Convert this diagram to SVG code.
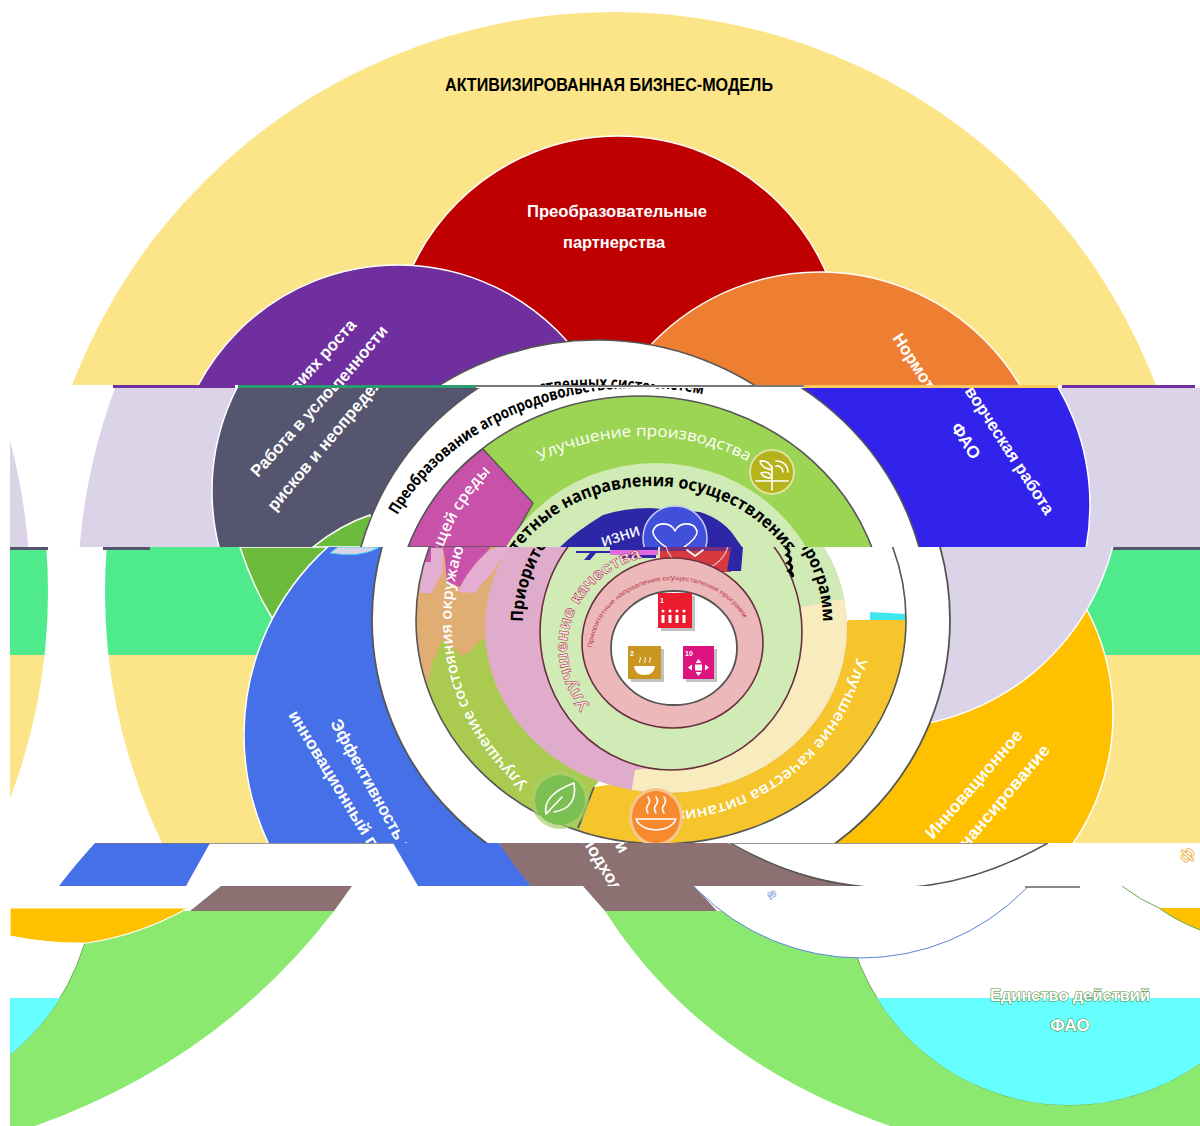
<svg xmlns="http://www.w3.org/2000/svg" xmlns:xlink="http://www.w3.org/1999/xlink" width="1200" height="1126" viewBox="0 0 1200 1126">
<style>
text{font-family:"Liberation Sans","Noto Sans",sans-serif}
.w{fill:#fff;font-weight:700;font-size:17px}
.r{fill:#fff;font-family:"Open Sans","Noto Sans",sans-serif;font-size:15.5px}
.k{fill:#000;font-family:"Open Sans","Noto Sans",sans-serif;font-weight:700}
.ln{fill:none;stroke:#555;stroke-width:1.6}
.dr{stroke:#6a2f3c;stroke-width:1.6}
.ic{fill:none;stroke:#fff;stroke-width:1.6;stroke-linecap:round;stroke-linejoin:round}
</style>
<defs>
<clipPath id="bA"><rect x="0" y="0" width="1200" height="385"/></clipPath>
<clipPath id="bB"><rect x="10" y="388" width="1190" height="159"/></clipPath>
<clipPath id="bC"><rect x="10" y="547" width="1190" height="108"/></clipPath>
<clipPath id="bD"><rect x="10" y="655" width="1190" height="188"/></clipPath>
<clipPath id="bCD"><rect x="10" y="547" width="1190" height="296"/></clipPath>
<clipPath id="bE"><rect x="10" y="843" width="1190" height="43"/></clipPath>
<clipPath id="bFG"><rect x="10" y="886" width="1190" height="240"/></clipPath>
<clipPath id="bG1"><rect x="10" y="925" width="120" height="201"/></clipPath>
<clipPath id="bG2"><rect x="10" y="998" width="1190" height="128"/></clipPath>
<clipPath id="rH"><rect x="600" y="500" width="600" height="400"/></clipPath>
<clipPath id="outer"><ellipse cx="661" cy="620" rx="245" ry="224"/></clipPath>
<clipPath id="midr"><ellipse cx="666" cy="628" rx="181" ry="165"/></clipPath>
<path id="tA" d="M325 620A272 232 0 0 1 869 620"/>
<path id="tB" d="M368 620A272 232 0 0 1 912 620"/>
<path id="prod" d="M439 620A205 184 0 0 1 849 620"/>
<path id="prB" d="M492 628A160 142 0 0 1 812 628"/>
<path id="prC" d="M523 622A150 143 0 0 1 823 622"/>
<path id="life" d="M590 705A104 93 0 0 1 650 556"/>
<path id="small" d="M592 648A81 73 0 0 1 745 620"/>
<path id="food" d="M858 650A200 192 0 0 1 560 786"/>
<path id="envC" d="M528 783A207 210 0 0 1 661 410"/>
<path id="envB" d="M507 783A207 210 0 0 1 640 410"/>
<g id="cd">
<circle cx="685" cy="592" r="580"/>
<circle cx="-532" cy="592" r="580"/>
</g>
<text id="l1" class="w" textLength="150" lengthAdjust="spacingAndGlyphs" transform="translate(330 723) rotate(61)">Эффективность и</text>
<text id="l2" class="w" textLength="210" lengthAdjust="spacingAndGlyphs" transform="translate(288 715) rotate(58.6)">инновационный подход</text>
<g id="pur">
<text class="w" textLength="205" lengthAdjust="spacingAndGlyphs" transform="translate(258 478) rotate(-48)">Работа в условиях роста</text>
<text class="w" textLength="236" lengthAdjust="spacingAndGlyphs" transform="translate(275 512) rotate(-50)">рисков и неопределенности</text>
</g>
<g id="ora">
<text class="w" textLength="212" lengthAdjust="spacingAndGlyphs" transform="translate(930 338) rotate(57)">Нормотворческая работа</text>
</g>
</defs>

<g id="band-top" clip-path="url(#bA)">
<circle cx="614" cy="592" r="580" fill="#FBE588"/>
<text x="609" y="91" text-anchor="middle" font-weight="700" font-size="18" fill="#000" textLength="328" lengthAdjust="spacingAndGlyphs">АКТИВИЗИРОВАННАЯ БИЗНЕС-МОДЕЛЬ</text>
<circle cx="618" cy="363" r="227" fill="#BE0000" stroke="#fff" stroke-width="1.5"/>
<text class="w" x="617" y="217" text-anchor="middle" textLength="180" lengthAdjust="spacingAndGlyphs">Преобразовательные</text>
<text class="w" x="614" y="248" text-anchor="middle" textLength="102" lengthAdjust="spacingAndGlyphs">партнерства</text>
<circle cx="398" cy="491" r="226" fill="#702F9F" stroke="#fff" stroke-width="1.5"/>
<circle cx="820" cy="505" r="233" fill="#EE7E32" stroke="#fff" stroke-width="1.5"/>
<use href="#pur" transform="translate(-38 0)"/>
<use href="#ora" transform="translate(-38 0)"/>
<ellipse cx="597" cy="620" rx="289" ry="280" fill="#fff" stroke="#555" stroke-width="1.6"/>
<text class="k" font-size="16"><textPath href="#tA" startOffset="110" textLength="350" lengthAdjust="spacingAndGlyphs">Преобразование агропродовольственных систем</textPath></text>
</g>

<g id="strip">
<rect x="113" y="385" width="122" height="3" fill="#702F9F"/>
<rect x="238" y="385" width="238" height="3" fill="#2A9D6F"/>
<rect x="476" y="385" width="328" height="2" fill="#777"/>
<rect x="804" y="385" width="254" height="3" fill="#FFC95F"/>
<rect x="1062" y="385" width="133" height="3" fill="#702F9F"/>
</g>

<g id="band-upper" clip-path="url(#bB)">
<circle cx="658" cy="592" r="580" fill="#DBD3E8"/>
<circle cx="-550" cy="592" r="580" fill="#DBD3E8"/>
<circle cx="438" cy="491" r="226" fill="#555570" stroke="#fff" stroke-width="1.5"/>
<circle cx="857" cy="505" r="233" fill="#3123EC" stroke="#fff" stroke-width="1.5"/>
<path d="M313 547Q340 525 370 515L380 547Z" fill="#6DBB3C" stroke="#fff" stroke-width="1.5"/>
<use href="#pur"/>
<use href="#ora"/>
<text class="w" text-anchor="middle" transform="translate(961 444) rotate(57)">ФАО</text>
<ellipse cx="640" cy="620" rx="289" ry="280" fill="#fff" stroke="#555" stroke-width="1.6"/>
<text class="k" font-size="16"><textPath href="#tB" startOffset="110" textLength="350" lengthAdjust="spacingAndGlyphs">Преобразование агропродовольственных систем</textPath></text>
<ellipse cx="640" cy="620" rx="245" ry="224" fill="#9CD453" stroke="#555" stroke-width="1.6"/>
<path d="M408 547A245 224 0 0 1 483 449L533 503L508 547Z" fill="#C851A9" stroke="#555" stroke-width="1.4"/>
<text class="r" font-weight="600"><textPath href="#envB" startOffset="0" textLength="350" lengthAdjust="spacingAndGlyphs">Улучшение состояния окружающей среды</textPath></text>
<text class="r" font-size="16"><textPath href="#prod" startOffset="50%" text-anchor="middle" textLength="216" lengthAdjust="spacingAndGlyphs">Улучшение производства</textPath></text>
<g id="icon-production">
<circle cx="772" cy="472" r="22" fill="#B5B21A" stroke="#DDE39A" stroke-width="2"/>
<path class="ic" d="M772 490V466M772 470q-11 -2 -12 -9q10 -1 12 9M772 478q-9 0 -11 -5q9 -3 11 5M776 466a6 6 0 0 1 7 6M776 461a11 11 0 0 1 12 11M756 481H788"/>
</g>
<ellipse cx="656" cy="628" rx="172" ry="165" fill="#D1EBB7"/>
<path d="M560 547Q575 532 603 515Q625 508 650 508L700 512Q725 520 737 540L742 547Z" fill="#2D27A8"/>
<text x="603" y="547" fill="#fff" font-size="18" font-family="Open Sans" textLength="40" lengthAdjust="spacingAndGlyphs" transform="rotate(-18 603 547)">изни</text>
<circle cx="675" cy="538" r="32" fill="#4050DA" stroke="#C5CFEE" stroke-width="1.5"/>
<path class="ic" stroke-width="2" d="M675 553C660 544 652 537 653 531C656 521 671 522 675 531C679 522 694 521 697 531C698 537 690 544 675 553Z"/>
<text class="k" font-size="17"><textPath href="#prB" startOffset="15" textLength="470" lengthAdjust="spacingAndGlyphs">Приоритетные направления осуществления программ</textPath></text>
</g>

<g id="band-middle" clip-path="url(#bCD)">
<use href="#cd" clip-path="url(#bC)" fill="#4FEA8C"/>
<use href="#cd" clip-path="url(#bD)" fill="#FBE588"/>
<g clip-path="url(#rH)">
<circle cx="669" cy="592" r="580" fill="#4FEA8C" clip-path="url(#bC)"/>
<circle cx="669" cy="592" r="580" fill="#FBE588" clip-path="url(#bD)"/>
</g>
<rect x="10" y="547" width="38" height="3" fill="#555570"/>
<rect x="103" y="547" width="47" height="3" fill="#555570"/>
<rect x="1105" y="547" width="95" height="3" fill="#555570"/>
<path d="M240 547Q252 585 272 618L345 547Z" fill="#6DBB3C" stroke="#fff" stroke-width="1.5"/>
<circle cx="497" cy="735" r="253" fill="#4670E8" stroke="#fff" stroke-width="1.5"/>
<path d="M330 553Q360 558 378 548V547H338Z" fill="#DBD3E8" stroke="#3BD5E8" stroke-width="1"/>
<use href="#l1"/>
<use href="#l2"/>
<circle cx="887" cy="715" r="226" fill="#FFC000" stroke="#fff" stroke-width="1.5"/>
<circle cx="880" cy="488" r="240" fill="#DBD3E8" stroke="#fff" stroke-width="1.5"/>
<text class="w" textLength="138" lengthAdjust="spacingAndGlyphs" transform="translate(933 840) rotate(-49)">Инновационное</text>
<text class="w" textLength="157" lengthAdjust="spacingAndGlyphs" transform="translate(949 870) rotate(-49.5)">финансирование</text>
<ellipse cx="661" cy="620" rx="289" ry="280" fill="#fff" stroke="#555" stroke-width="1.8"/>
<path d="M870 612L906 614V620H870Z" fill="#3FE6EE"/>
<g clip-path="url(#outer)">
<path d="M849 620H920V860H570L594 787L640 780L849 620Z" fill="#F5C52B"/>
<path d="M400 540H560V700H400Z" fill="#E0AE73"/>
<path d="M420 695L429 680L432 662L437 655L442 640L463 656L472 650L477 643L483 639H560L600 780L594 787L570 860H400V695Z" fill="#ABCA50"/>
<path d="M405 540H500L492 545L487 552L477 562L467 575L460 587L447 582L445 560L443 548H431V562H425V548H405Z" fill="#C851A9"/>
<path d="M405 600L420 593L422 570L425 562H431V548H443V572L437 582L432 593H405Z" fill="#E4AED2"/>
<path d="M458 592L460 587L467 575L477 562L487 552L502 545L520 547L500 560L492 573L482 583L475 593Z" fill="#E4AED2"/>
</g>
<ellipse cx="661" cy="620" rx="245" ry="224" class="ln"/>
<path d="M594 787L578 828" class="ln"/>
<text class="r" font-weight="600"><textPath href="#envC" startOffset="0" textLength="350" lengthAdjust="spacingAndGlyphs">Улучшение состояния окружающей среды</textPath></text>
<text class="r" font-weight="600" font-size="16"><textPath href="#food" startOffset="8" textLength="255" lengthAdjust="spacingAndGlyphs">Улучшение качества питания</textPath></text>
<g clip-path="url(#midr)">
<rect x="470" y="540" width="400" height="270" fill="#E0ACCB"/>
<path d="M630 800L635 770L720 760L801 607L835 600L860 600V800Z" fill="#F8ECBF"/>
<path d="M572 540H860V600H835L801 607L700 640L572 600Z" fill="#D1EBB7"/>
</g>
<ellipse cx="671" cy="632" rx="131" ry="138" fill="#D1EBB7" class="dr"/>
<path d="M660 547H735L731 572H660Z" fill="#D63A3F"/>
<path d="M731 547H743L741 571H727Z" fill="#2D27A8"/>
<path d="M660 547H730V551H660Z" fill="#2D27A8" opacity=".55"/>
<ellipse cx="697" cy="538" rx="32" ry="32" fill="none" stroke="#E9BFC6" stroke-width="1.2"/>
<rect x="610" y="550" width="48" height="5" fill="#E26BE0"/>
<path d="M576 551H610V553H596L590 560H584L590 553H576ZM610 547H658V550H610ZM622 555H656V558H622Z" fill="#2D27A8"/>
<path class="ic" d="M687 550L695 556L703 550"/>
<path d="M785 547q7 4 2 8q7 4 1 8q7 4 1 8q5 3 3 6" fill="none" stroke="#000" stroke-width="3"/>
<text class="k" font-size="17"><textPath href="#prC" startOffset="0" textLength="460" lengthAdjust="spacingAndGlyphs">Приоритетные направления осуществления программ</textPath></text>
<text fill="#FBE7E7" stroke="#A5263A" stroke-width=".5" font-size="17" font-weight="700" font-family="Open Sans"><textPath href="#life" textLength="250" lengthAdjust="spacingAndGlyphs">Улучшение качества жизни</textPath></text>
<ellipse cx="672.500" cy="643" rx="90.500" ry="85" fill="#ECB8BA" class="dr"/>
<text fill="#B83A48" font-size="6.500"><textPath href="#small" textLength="200" lengthAdjust="spacingAndGlyphs">Приоритетные направления осуществления программ</textPath></text>
<ellipse cx="674" cy="648" rx="63" ry="57" fill="#fff" stroke="#555" stroke-width="1.8"/>
<g id="sdg1">
<rect x="661" y="596" width="34" height="35" fill="#777" opacity=".45"/>
<rect x="658" y="593" width="34" height="35" fill="#ED1B2E"/>
<text x="660" y="603" fill="#fff" font-size="7" font-weight="700">1</text>
<path d="M663 623v-8M670 623v-8M677 623v-8M684 623v-8" stroke="#fff" stroke-width="3"/>
<path d="M663 611h.01M670 611h.01M677 611h.01M684 611h.01" stroke="#fff" stroke-width="3" stroke-linecap="round"/>
</g>
<g id="sdg2">
<rect x="631" y="649" width="33" height="33" fill="#777" opacity=".45"/>
<rect x="628" y="646" width="33" height="33" fill="#C9971F"/>
<text x="630" y="656" fill="#fff" font-size="7" font-weight="700">2</text>
<path d="M634 666H655Q654 675 644.500 675Q635 675 634 666Z" fill="#fff"/>
<path d="M640 663q-1 -2 0 -3t0 -3M645 663q-1 -2 0 -3t0 -3M650 663q-1 -2 0 -3t0 -3" fill="none" stroke="#fff"/>
</g>
<g id="sdg10">
<rect x="686" y="649" width="31" height="33" fill="#777" opacity=".45"/>
<rect x="683" y="646" width="31" height="33" fill="#DD1480"/>
<text x="685" y="656" fill="#fff" font-size="7" font-weight="700">10</text>
<path d="M698.500 659l3 4h-6ZM698.500 676l3 -4h-6ZM688 667.500l4 -3v6ZM709 667.500l-4 -3v6Z" fill="#fff"/>
<rect x="695" y="664.500" width="7" height="6" fill="#fff"/>
</g>
<g id="icon-environment">
<circle cx="560" cy="800" r="29" fill="#A6CF6A" opacity=".7"/>
<circle cx="560" cy="800" r="25" fill="#7CBF52"/>
<path class="ic" d="M546 814Q542 795 574 783Q578 808 554 812M546 814L562 797"/>
</g>
<g id="icon-food">
<ellipse cx="656" cy="817" rx="27" ry="29" fill="#F9C58F"/>
<ellipse cx="656" cy="817" rx="24" ry="26" fill="#F58A2E"/>
<path class="ic" d="M636 819H676Q672 829 656 830Q640 829 636 819ZM648 813q-3 -4 0 -8t0 -8M656 813q-3 -4 0 -8t0 -8M664 813q-3 -4 0 -8t0 -8"/>
</g>
</g>

<g id="band-lower" clip-path="url(#bE)">
<path d="M95 843H210L186 886H59Q75 865 95 843Z" fill="#4670E8"/>
<path d="M393 843H499L531 886H418Z" fill="#4670E8"/>
<path d="M499 843H728Q790 878 865 886H531Q515 868 499 843Z" fill="#8C7072"/>
<use href="#l1" transform="translate(217 0)"/>
<use href="#l2" transform="translate(217 0)"/>
<path d="M730 843Q889 933 1048 843" class="ln" fill="none"/>
<path d="M95 843H393M730 843H1048" stroke="#777" stroke-width="1.5"/>
<text font-size="17" font-weight="700" fill="#fff" stroke="#F2A81D" stroke-width=".7" transform="translate(1186 864) rotate(-49)">ф</text>
</g>

<g id="band-bottom" clip-path="url(#bFG)">
<path d="M221 886H352L334 911H190Z" fill="#8C7072"/>
<path d="M583 886H694L717 911H605Z" fill="#8C7072"/>
<path d="M10 911H334Q220 1060 35 1126H10Z" fill="#8BE970"/>
<path d="M605 911H1200V1126H890Q700 1060 605 911Z" fill="#8BE970"/>
<g clip-path="url(#bG1)">
<circle cx="-132" cy="879" r="226" fill="#fff" stroke="#6AA84F" stroke-width="1"/>
<circle cx="-132" cy="879" r="226" fill="#66FFFF" clip-path="url(#bG2)"/>
</g>
<circle cx="1069" cy="879" r="226" fill="#fff" stroke="#6AA84F" stroke-width="1"/>
<circle cx="1069" cy="879" r="226" fill="#66FFFF" clip-path="url(#bG2)"/>
<circle cx="861" cy="727" r="231" fill="#fff" stroke="#5B82D8" stroke-width="1"/>
<path d="M10 908H188Q140 935 87 943Q50 944 10 936Z" fill="#FFC000" stroke="#fff" stroke-width="1.2"/>
<path d="M1159 908H1200V930Q1175 920 1159 908Z" fill="#FFC000"/>
<path d="M1122 886Q1140 900 1159 908M1200 930Q1175 920 1159 908" fill="none" stroke="#6AA84F" stroke-width="1"/>
<rect x="1025" y="886" width="55" height="2" fill="#888"/>
<text x="772" y="896" fill="#fff" stroke="#5B82D8" stroke-width=".5" font-size="14" font-weight="700" transform="rotate(60 772 890)">а</text>
<g fill="#fff" stroke="#4F8F3C" stroke-width="1.2" font-size="17" font-weight="700" text-anchor="middle" paint-order="stroke">
<text x="1070" y="1001" textLength="160" lengthAdjust="spacingAndGlyphs">Единство действий</text>
<text x="1070" y="1031">ФАО</text>
</g>
</g>
</svg>
